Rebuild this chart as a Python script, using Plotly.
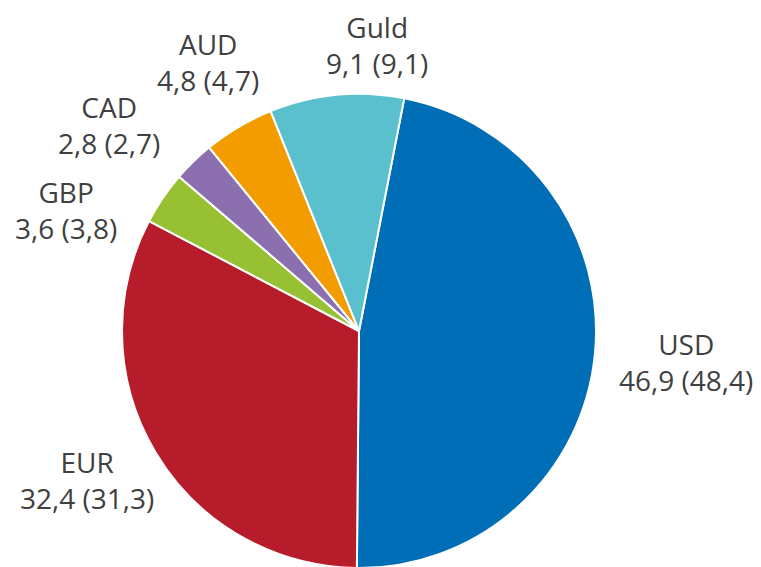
import plotly.graph_objects as go

W, H = 761, 567
OFF = 8  # page body margin shifts the figure by this many pixels

# data: share in percent, previous value in parentheses
labels = ["USD", "EUR", "GBP", "CAD", "AUD", "Guld"]
values = [46.9, 32.4, 3.6, 2.8, 4.8, 9.1]
previous = [48.4, 31.3, 3.8, 2.7, 4.7, 9.1]
colors = ["#006eb6", "#b71c2b", "#97c032", "#8c6fae", "#f39c00", "#5bc0ce"]

# label block centres in window pixels
label_pos = {
    "USD": (686, 362),
    "EUR": (87, 480),
    "GBP": (66, 210),
    "CAD": (109, 125),
    "AUD": (208, 62),
    "Guld": (377, 45),
}


def fmt(v):
    return f"{v:.1f}".replace(".", ",")


fig = go.Figure()
fig.add_trace(go.Pie(
    labels=labels,
    values=values,
    sort=False,
    direction="clockwise",
    rotation=11,
    marker=dict(colors=colors, line=dict(color="white", width=2)),
    textinfo="none",
    hoverinfo="label+value",
    showlegend=False,
    # pie spans window pixels x 122..596, y 94..568
    domain=dict(x=[(122 - OFF) / W, (596 - OFF) / W],
                y=[(H - (568 - OFF)) / H, 1 - (94 - OFF) / H]),
))

for lab, v, p in zip(labels, values, previous):
    px, py = label_pos[lab]
    fig.add_annotation(
        x=(px - OFF) / W, y=1 - (py - OFF) / H, xref="paper", yref="paper",
        text=f"{lab}<br>{fmt(v)} ({fmt(p)})",
        showarrow=False, xanchor="center", yanchor="middle",
        borderpad=0,
        font=dict(family="Open Sans", size=28, color="#404040"),
    )

fig.update_layout(
    width=W, height=H,
    margin=dict(l=0, r=0, t=0, b=0),
    paper_bgcolor="white",
    plot_bgcolor="white",
)

fig.write_html("out.html")
